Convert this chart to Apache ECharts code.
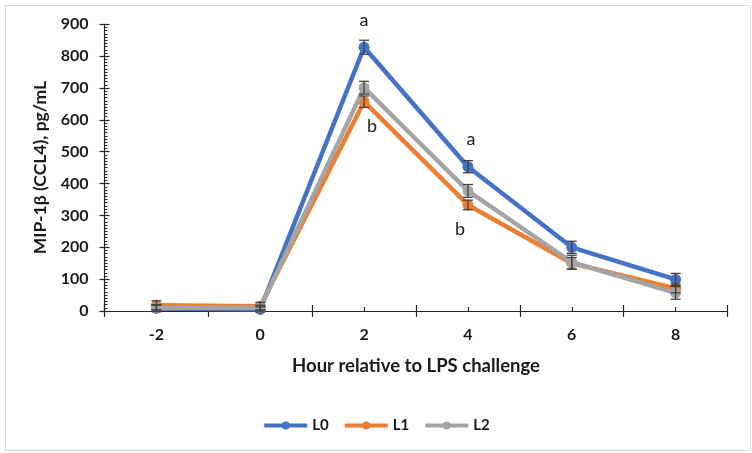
<!DOCTYPE html>
<html>
<head>
<meta charset="utf-8">
<script src="https://cdn.jsdelivr.net/npm/echarts@6/dist/echarts.min.js"></script>
<style>html,body{margin:0;padding:0;background:#fff;}#c{width:752px;height:453px;}</style>
</head>
<body>
<div id="c"></div>
<script>
const hours = [-2, 0, 2, 4, 6, 8];
const xTickLabels = [-2, 0, 2, 4, 6, 8];
const xBoundaryTicks = [-3, -1, 1, 3, 5, 7, 9];
const seriesNames = ['L0', 'L1', 'L2'];
const L0 = [8, 5, 828, 453, 200, 99];
const L1 = [18, 15, 657, 333, 150, 71];
const L2 = [10, 10, 701, 377, 153, 57];
const L0err = [10, 8, 22, 19, 19, 19];
const L1err = [14, 12, 18, 15, 18, 14];
const L2err = [10, 8, 20, 20, 22, 20];
const L0letters = ['', '', 'a', 'a', '', ''];
const L1letters = ['', '', 'b', 'b', '', ''];

const colors = ['#4472C4', '#ED7D31', '#A5A5A5'];
const FONT = 'Lato';
const AXIS = '#262626';

const values = [L0, L1, L2];
const errs = [L0err, L1err, L2err];
const letters = [L0letters, L1letters, null];
const letterCfg = {
  0: { 2: { position: 'top', distance: 13, offset: [0, 0] }, 3: { position: 'top', distance: 13, offset: [3, 0] } },
  1: { 2: { position: 'bottom', distance: 10, offset: [8, 0] }, 3: { position: 'bottom', distance: 10, offset: [-8, 0] } }
};

const chart = echarts.init(document.getElementById('c'), null, { renderer: 'canvas' });

const series = [];
values.forEach((vals, si) => {
  series.push({
    name: seriesNames[si],
    type: 'line',
    xAxisIndex: 0, yAxisIndex: 0,
    data: vals.map((v, i) => {
      const item = { value: [hours[i], v] };
      if (letters[si] && letters[si][i]) {
        const c = letterCfg[si][i];
        item.label = {
          show: true, formatter: letters[si][i], position: c.position, distance: c.distance,
          offset: c.offset, fontFamily: FONT, fontSize: 18, color: '#1a1a1a', fontWeight: 'normal'
        };
      }
      return item;
    }),
    symbol: 'circle', symbolSize: 11,
    lineStyle: { width: 4.5, color: colors[si] },
    itemStyle: { color: colors[si] },
    label: { show: false },
    z: 2 + si,
    animation: false
  });
});
values.forEach((vals, si) => {
  series.push({
    type: 'custom',
    xAxisIndex: 0, yAxisIndex: 0,
    data: vals.map((v, i) => [hours[i], v, errs[si][i]]),
    encode: { x: 0, y: 1 },
    renderItem: function (params, api) {
      const x = api.value(0), y = api.value(1), e = api.value(2);
      const top = api.coord([x, y + e]);
      const bot = api.coord([x, y - e]);
      const hw = 5;
      const st = { stroke: '#404040', lineWidth: 1.3 };
      return {
        type: 'group',
        children: [
          { type: 'line', shape: { x1: top[0], y1: top[1], x2: bot[0], y2: bot[1] }, style: st },
          { type: 'line', shape: { x1: top[0] - hw, y1: top[1], x2: top[0] + hw, y2: top[1] }, style: st },
          { type: 'line', shape: { x1: bot[0] - hw, y1: bot[1], x2: bot[0] + hw, y2: bot[1] }, style: st }
        ]
      };
    },
    z: 10,
    silent: true,
    animation: false
  });
});

const gridCfg = { left: 104.5, right: 24.5, top: 24.3, bottom: 142 };

chart.setOption({
  animation: false,
  backgroundColor: '#fff',
  color: colors,
  graphic: [{
    type: 'rect', left: 3, top: 3, shape: { width: 745, height: 445 },
    style: { fill: 'none', stroke: '#d9d9d9', lineWidth: 1 }, silent: true, z: -1
  }],
  grid: gridCfg,
  legend: {
    data: seriesNames, top: 413, left: 'center',
    itemWidth: 43, itemHeight: 10, itemGap: 14,
    lineStyle: { width: 4 },
    textStyle: { fontFamily: FONT, fontSize: 15, fontWeight: 'bold', color: '#1a1a1a' }
  },
  xAxis: [{
    type: 'value', min: -3, max: 9, interval: 1,
    name: 'Hour relative to LPS challenge', nameLocation: 'middle', nameGap: 46,
    nameTextStyle: { fontFamily: FONT, fontSize: 18.5, fontWeight: 'bold', color: '#1a1a1a' },
    axisLine: { show: true, onZero: false, lineStyle: { color: AXIS, width: 1.2 } },
    axisTick: { show: true, customValues: xBoundaryTicks, length: 6, lineStyle: { color: AXIS, width: 1.2 } },
    axisLabel: { customValues: xTickLabels, fontFamily: FONT, fontSize: 16, fontWeight: 'bold', color: '#1a1a1a', margin: 16 },
    splitLine: { show: false }
  }, {
    type: 'value', min: -3, max: 9, interval: 1, position: 'bottom',
    axisLine: { show: false, onZero: false },
    axisTick: { show: true, inside: true, customValues: xBoundaryTicks, length: 6, lineStyle: { color: AXIS, width: 1.2 } },
    axisLabel: { show: false }, splitLine: { show: false }
  }, {
    type: 'value', min: -3, max: 9, interval: 1, position: 'bottom',
    axisLine: { show: false, onZero: false },
    axisTick: { show: true, inside: true, customValues: xTickLabels, length: 4, lineStyle: { color: AXIS, width: 1.2 } },
    axisLabel: { show: false }, splitLine: { show: false }
  }],
  yAxis: [{
    type: 'value', min: 0, max: 900, interval: 100,
    name: 'MIP-1β (CCL4), pg/mL', nameLocation: 'middle', nameGap: 55,
    nameTextStyle: { fontFamily: FONT, fontSize: 17.5, fontWeight: 'bold', color: '#1a1a1a' },
    axisLine: { show: true, onZero: false, lineStyle: { color: AXIS, width: 1.2 } },
    axisTick: { show: true, length: 5, lineStyle: { color: AXIS, width: 1.2 } },
    axisLabel: { fontFamily: FONT, fontSize: 16, fontWeight: 'bold', color: '#1a1a1a', margin: 16 },
    splitLine: { show: false }
  }, {
    type: 'value', min: 0, max: 900, interval: 100, position: 'left',
    axisLine: { show: false, onZero: false },
    axisTick: { show: true, inside: true, length: 5, lineStyle: { color: AXIS, width: 1.2 } },
    minorTick: { show: true, splitNumber: 10, length: 3, lineStyle: { color: AXIS, width: 1 } },
    axisLabel: { show: false }, splitLine: { show: false }
  }],
  series: series
});
</script>
</body>
</html>
